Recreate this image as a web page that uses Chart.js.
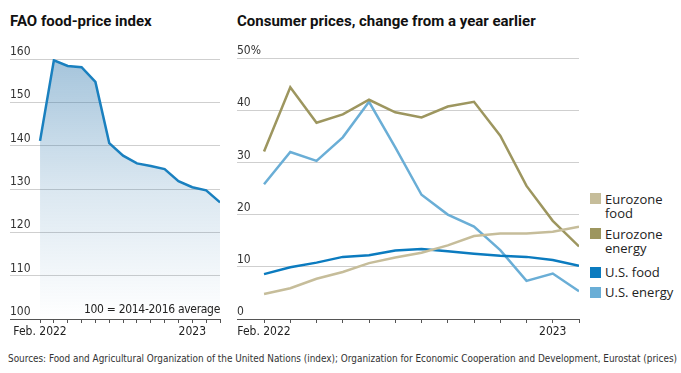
<!DOCTYPE html>
<html>
<head>
<meta charset="utf-8">
<script src="https://cdn.jsdelivr.net/npm/chart.js@4.4.0/dist/chart.umd.min.js"></script>
<style>
  body { margin: 0; background: #fff; width: 681px; height: 373px; overflow: hidden; position: relative; font-family: "Liberation Sans Narrow", "DejaVu Sans Condensed", "Roboto", sans-serif; color: #222; }
  .title { position: absolute; top: 13px; font: bold 15px "Roboto", "Noto Sans", sans-serif; line-height: 16px; color: #111; white-space: nowrap; }
  canvas { position: absolute; }
  .note { position: absolute; left: 60px; width: 160px; top: 303px; text-align: right; font-size: 12px; line-height: 13px; letter-spacing: -0.3px; color: #222; }
  .source { position: absolute; left: 8px; top: 352px; font-size: 10.5px; line-height: 12px; color: #333; white-space: nowrap; transform-origin: 0 0; }
  .legend { position: absolute; left: 590px; font: 13px "Open Sans", "Noto Sans", sans-serif; line-height: 14.5px; color: #222; }
  .legend .box { position: absolute; left: 0; top: 1.5px; width: 11px; height: 11px; }
  .legend .txt { position: absolute; left: 15px; top: 0; white-space: nowrap; }
</style>
</head>
<body>
<div class="title" style="left:10px">FAO food-price index</div>
<div class="title" style="left:237px">Consumer prices, change from a year earlier</div>

<canvas id="fao-chart" width="230" height="305" style="left:0;top:40px"></canvas>
<canvas id="cpi-chart" width="360" height="305" style="left:230px;top:40px"></canvas>

<div class="note">100 = 2014-2016 average</div>

<div class="legend" style="top:191.5px"><span class="box" style="background:#c6bd9a"></span><span class="txt">Eurozone<br>food</span></div>
<div class="legend" style="top:226.5px"><span class="box" style="background:#9d965f"></span><span class="txt">Eurozone<br>energy</span></div>
<div class="legend" style="top:265px"><span class="box" style="background:#0b7bbf"></span><span class="txt">U.S. food</span></div>
<div class="legend" style="top:285px"><span class="box" style="background:#6aaed6"></span><span class="txt">U.S. energy</span></div>

<div class="source" id="source">Sources: Food and Agricultural Organization of the United Nations (index); Organization for Economic Cooperation and Development, Eurostat (prices)</div>

<script>
  "use strict";

  // Months Feb. 2022 - Mar. 2023
  var faoMonths = ["Feb. 2022", "", "", "", "", "", "", "", "", "", "", "2023", "", ""];
  var faoIndex = [141.1, 159.7, 158.4, 158.1, 154.7, 140.6, 137.7, 135.9, 135.3, 134.6, 131.8, 130.4, 129.7, 126.9];
  var faoTicks = [100, 110, 120, 130, 140, 150, 160];

  // Months Feb. 2022 - Feb. 2023
  var cpiMonths = ["Feb. 2022", "", "", "", "", "", "", "", "", "", "", "2023", ""];
  var euroFood = [4.8, 5.9, 7.7, 9.0, 10.7, 11.8, 12.7, 14.1, 15.9, 16.4, 16.4, 16.7, 17.7];
  var euroEnergy = [32.1, 44.4, 37.6, 39.2, 42.0, 39.6, 38.6, 40.7, 41.6, 35.1, 25.5, 18.8, 13.9];
  var usFood = [8.6, 9.9, 10.8, 11.9, 12.2, 13.1, 13.4, 13.0, 12.5, 12.1, 11.9, 11.3, 10.2];
  var usEnergy = [25.8, 32.0, 30.3, 34.8, 41.6, 32.9, 23.8, 20.0, 17.7, 13.2, 7.3, 8.7, 5.3];
  var cpiTicks = [0, 10, 20, 30, 40, 50];

  var tickFont = { family: "'Liberation Sans Narrow', 'DejaVu Sans Condensed', Roboto, sans-serif", size: 12 };

  // squeeze the source line into the page width
  var src = document.getElementById("source");
  var srcWidth = src.getBoundingClientRect().width;
  if (srcWidth > 669) src.style.transform = "scaleX(" + 669 / srcWidth + ")";

  function points(values) {
    return values.map(function (v, i) {
      return { x: i, y: v };
    });
  }

  // x axis: month ticks, labels only where given
  function monthAxis(labels, min) {
    return {
      type: "linear",
      min: min,
      max: labels.length - 1,
      afterBuildTicks: function (scale) {
        scale.ticks = labels.map(function (l, i) {
          return { value: i };
        });
      },
      afterFit: function (scale) {
        scale.height = 26;
      },
      ticks: {
        autoSkip: false,
        maxRotation: 0,
        padding: 2,
        color: "#222",
        font: tickFont,
        callback: function (v) {
          return labels[v] || "";
        },
      },
      grid: { drawOnChartArea: false, tickLength: 4, color: "#555" },
      border: { color: "#555", width: 1 },
    };
  }

  // y axis: labels sit above the gridlines
  function valueAxis(values, suffix) {
    return {
      min: values[0],
      max: values[values.length - 1],
      afterBuildTicks: function (scale) {
        scale.ticks = values.map(function (v) {
          return { value: v };
        });
      },
      afterFit: function (scale) {
        scale.width = 0;
      },
      ticks: {
        mirror: true,
        padding: 0,
        labelOffset: -7,
        color: "#333",
        font: tickFont,
        callback: function (v) {
          return v === values[values.length - 1] ? v + suffix : v;
        },
      },
      grid: { color: "#cfcfcf", drawTicks: false },
      border: { display: false },
    };
  }

  var baseOptions = function (padding, xAxis, yAxis) {
    return {
      responsive: false,
      animation: false,
      layout: { padding: padding },
      plugins: { legend: { display: false }, tooltip: { enabled: false } },
      elements: { point: { radius: 0 }, line: { tension: 0, borderWidth: 2.5, borderCapStyle: "butt" } },
      scales: { x: xAxis, y: yAxis },
    };
  };

  // FAO Chart
  var ctx1 = document.getElementById("fao-chart").getContext("2d");
  var faoChart = new Chart(ctx1, {
    type: "line",
    data: {
      datasets: [
        {
          data: points(faoIndex),
          borderColor: "#1a80bf",
          fill: "start",
          backgroundColor: function (context) {
            var ca = context.chart.chartArea;
            if (!ca) return "rgba(30,120,180,0.2)";
            var g = ctx1.createLinearGradient(0, ca.top, 0, ca.bottom);
            g.addColorStop(0, "rgba(40,115,170,0.42)");
            g.addColorStop(0.5, "rgba(40,115,170,0.17)");
            g.addColorStop(1, "rgba(40,115,170,0.0)");
            return g;
          },
        },
      ],
    },
    options: baseOptions({ left: 10, right: 10, top: 19, bottom: 0 }, monthAxis(faoMonths, -2.17), valueAxis(faoTicks, "")),
  });

  // Consumer prices Chart
  var ctx2 = document.getElementById("cpi-chart").getContext("2d");
  var cpiChart = new Chart(ctx2, {
    type: "line",
    data: {
      datasets: [
        { label: "Eurozone food", data: points(euroFood), borderColor: "#c6bd9a", fill: false },
        { label: "Eurozone energy", data: points(euroEnergy), borderColor: "#9d965f", fill: false },
        { label: "U.S. food", data: points(usFood), borderColor: "#0b7bbf", fill: false },
        { label: "U.S. energy", data: points(usEnergy), borderColor: "#6aaed6", fill: false },
      ],
    },
    options: baseOptions({ left: 7, right: 11, top: 18, bottom: 0 }, monthAxis(cpiMonths, -1.03), valueAxis(cpiTicks, "%")),
  });
</script>
</body>
</html>
